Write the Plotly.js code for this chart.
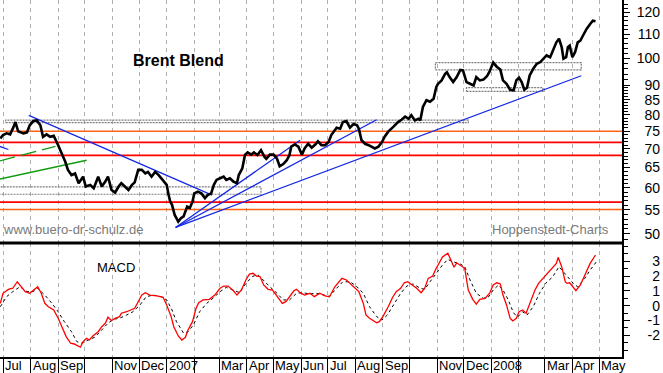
<!DOCTYPE html>
<html>
<head>
<meta charset="utf-8">
<script src="https://cdn.plot.ly/plotly-3.0.1.min.js"></script>
<style>html,body{margin:0;padding:0;background:#fff;}#chart{width:663px;height:373px;}</style>
</head>
<body>
<div id="chart"></div>
<script>
// ---------- DATA ----------
const priceDates = [
'2006-06-28','2006-07-01','2006-07-05','2006-07-09','2006-07-12','2006-07-15','2006-07-18','2006-07-24','2006-07-28','2006-07-31',
'2006-08-04','2006-08-08','2006-08-12','2006-08-15','2006-08-19','2006-08-23','2006-08-27','2006-08-29',
'2006-09-01','2006-09-05','2006-09-09','2006-09-12','2006-09-16','2006-09-20','2006-09-24','2006-09-29',
'2006-10-02','2006-10-07','2006-10-11','2006-10-16','2006-10-20','2006-10-24','2006-10-27','2006-10-31',
'2006-11-04','2006-11-08','2006-11-11','2006-11-15','2006-11-19','2006-11-23','2006-11-26','2006-11-30',
'2006-12-04','2006-12-08','2006-12-11','2006-12-15','2006-12-19','2006-12-23','2006-12-28',
'2007-01-01','2007-01-03','2007-01-05','2007-01-07','2007-01-10','2007-01-14','2007-01-17','2007-01-20','2007-01-24','2007-01-27','2007-01-30',
'2007-02-01','2007-02-05','2007-02-09','2007-02-13','2007-02-16','2007-02-20','2007-02-23','2007-02-26',
'2007-03-02','2007-03-06','2007-03-09','2007-03-13','2007-03-17','2007-03-21','2007-03-23','2007-03-27','2007-03-30',
'2007-04-02','2007-04-06','2007-04-09','2007-04-13','2007-04-17','2007-04-21','2007-04-23','2007-04-27',
'2007-05-01','2007-05-05','2007-05-08','2007-05-12','2007-05-16','2007-05-19','2007-05-21','2007-05-25','2007-05-29',
'2007-06-02','2007-06-05','2007-06-09','2007-06-13','2007-06-17','2007-06-20','2007-06-24','2007-06-28',
'2007-07-02','2007-07-05','2007-07-11','2007-07-15','2007-07-18','2007-07-22','2007-07-26','2007-07-30',
'2007-08-03','2007-08-05','2007-08-08','2007-08-12','2007-08-16','2007-08-19','2007-08-23','2007-08-27','2007-08-31',
'2007-09-03','2007-09-07','2007-09-13','2007-09-18','2007-09-22','2007-09-26','2007-09-30',
'2007-10-03','2007-10-07','2007-10-11','2007-10-13','2007-10-16','2007-10-20','2007-10-24','2007-10-28','2007-10-31',
'2007-11-02','2007-11-06','2007-11-10','2007-11-12','2007-11-15','2007-11-19','2007-11-23','2007-11-27','2007-11-30',
'2007-12-04','2007-12-08','2007-12-12','2007-12-15','2007-12-19','2007-12-23','2007-12-27','2007-12-30',
'2008-01-03','2008-01-07','2008-01-11','2008-01-14','2008-01-18','2008-01-22','2008-01-26','2008-01-29',
'2008-02-01','2008-02-04','2008-02-07','2008-02-10','2008-02-13','2008-02-17','2008-02-21','2008-02-25','2008-02-28',
'2008-03-03','2008-03-07','2008-03-11','2008-03-14','2008-03-17','2008-03-20','2008-03-22','2008-03-25','2008-03-27','2008-03-29',
'2008-04-01','2008-04-04','2008-04-07','2008-04-10','2008-04-13','2008-04-17','2008-04-21','2008-04-24','2008-04-27'
];
const priceValues = [
72.9,73.9,74.4,74.1,75.8,77.8,75.0,74.4,74.7,76.8,
78.1,78.3,76.8,73.4,74.1,73.4,73.7,72.4,
71.0,68.7,66.5,64.4,63.1,63.5,61.1,62.7,
60.3,60.7,59.9,62.7,60.3,61.5,62.7,59.5,
58.9,60.3,61.1,60.3,59.5,60.7,61.3,64.4,
64.4,63.5,63.9,62.7,63.9,63.1,61.9,
60.7,58.5,56.8,56.1,53.9,52.5,53.2,53.6,55.7,55.4,56.8,
58.7,59.1,58.7,57.6,58.3,58.7,60.7,61.9,
62.3,62.7,61.9,62.3,61.5,61.1,63.1,64.8,68.3,
69.0,68.4,69.0,68.3,69.6,67.8,67.3,68.4,
68.4,67.3,65.3,65.9,66.9,68.3,70.6,71.2,70.6,
68.4,70.1,71.4,70.3,71.2,72.1,71.0,71.0,
71.9,73.9,76.1,75.8,77.8,78.1,76.1,77.2,
76.8,75.8,72.4,71.4,71.0,70.6,70.1,70.6,71.9,
73.4,74.9,76.4,77.8,78.5,79.5,78.8,
79.9,78.3,78.8,78.3,82.6,84.8,84.3,85.3,89.3,
90.5,91.7,94.1,94.7,92.9,91.1,92.9,95.6,95.4,
91.1,90.5,89.9,92.9,91.7,92.0,93.2,95.0,
98.4,96.8,95.7,91.7,90.5,88.4,88.2,91.7,
92.7,91.1,88.4,89.1,93.5,96.0,97.9,98.6,99.9,
101.2,100.5,103.9,106.6,108.1,104.6,99.9,100.5,104.6,105.2,
100.5,102.5,106.6,107.3,109.5,112.4,114.6,116.1,115.8
];

const macdDates = ['2006-06-28','2006-07-01','2006-07-07','2006-07-12','2006-07-17','2006-07-21','2006-07-26','2006-07-31',
'2006-08-06','2006-08-09','2006-08-13','2006-08-17','2006-08-21','2006-08-27',
'2006-09-01','2006-09-06','2006-09-10','2006-09-15','2006-09-19','2006-09-23','2006-09-26','2006-09-29',
'2006-10-03','2006-10-06','2006-10-10','2006-10-16','2006-10-20','2006-10-24','2006-10-27','2006-10-31',
'2006-11-04','2006-11-09','2006-11-11','2006-11-17','2006-11-23','2006-11-26','2006-11-30',
'2006-12-04','2006-12-08','2006-12-13','2006-12-21','2006-12-28',
'2007-01-01','2007-01-06','2007-01-09','2007-01-14','2007-01-18','2007-01-22','2007-01-25','2007-01-30',
'2007-02-03','2007-02-06','2007-02-11','2007-02-18','2007-02-24',
'2007-03-02','2007-03-06','2007-03-11','2007-03-17','2007-03-21','2007-03-26','2007-03-31',
'2007-04-04','2007-04-08','2007-04-12','2007-04-16','2007-04-20','2007-04-25','2007-04-30',
'2007-05-06','2007-05-11','2007-05-15','2007-05-19','2007-05-24','2007-05-27','2007-05-31',
'2007-06-05','2007-06-11','2007-06-16','2007-06-22','2007-06-28',
'2007-07-03','2007-07-09','2007-07-14','2007-07-17','2007-07-22','2007-07-26','2007-07-31',
'2007-08-05','2007-08-10','2007-08-13','2007-08-17','2007-08-21','2007-08-25','2007-08-28',
'2007-09-01','2007-09-07','2007-09-12','2007-09-16','2007-09-21','2007-09-25','2007-09-29',
'2007-10-04','2007-10-09','2007-10-14','2007-10-18','2007-10-22','2007-10-27','2007-10-30',
'2007-11-03','2007-11-07','2007-11-13','2007-11-17','2007-11-20','2007-11-23','2007-11-28',
'2007-12-02','2007-12-06','2007-12-11','2007-12-15','2007-12-19','2007-12-25','2007-12-30',
'2008-01-03','2008-01-07','2008-01-11','2008-01-14','2008-01-18','2008-01-22','2008-01-25','2008-01-29',
'2008-02-01','2008-02-05','2008-02-09','2008-02-13','2008-02-19','2008-02-23','2008-02-28',
'2008-03-05','2008-03-11','2008-03-14','2008-03-16','2008-03-20','2008-03-24','2008-03-26','2008-03-29',
'2008-04-01','2008-04-05','2008-04-10','2008-04-15','2008-04-21','2008-04-27'];
const macdValues = [0.16,0.84,1.1,1.18,1.62,1.33,0.95,0.84,
1.1,1.28,0.84,0.16,-0.07,-0.29,
-0.85,-1.53,-2.09,-2.54,-2.59,-2.72,-2.81,-2.43,
-2.2,-2.32,-2.05,-1.76,-1.42,-1.19,-0.78,-1.01,
-0.85,-0.74,-0.51,-0.41,-0.29,-0.18,0.27,
0.72,0.88,0.72,0.66,0.57,
0.05,-0.74,-1.42,-2.05,-2.32,-2.14,-1.64,-1.08,
-0.18,0.2,0.39,0.43,0.72,
1.18,1.33,1.33,1.01,0.72,1.06,1.74,
2.14,2.19,2.0,1.96,1.4,1.11,1.06,
0.61,0.16,0.27,0.61,1.01,1.11,0.88,
0.72,0.84,0.61,0.84,0.66,
0.6,1.28,1.62,1.85,1.74,1.51,1.18,
0.95,0.16,-0.63,-0.85,-1.01,-1.15,-1.08,
-0.74,-0.07,0.57,0.95,1.18,1.55,1.62,
1.4,1.18,0.88,1.18,1.85,2.0,2.41,
2.86,3.3,3.55,2.97,2.6,2.9,2.68,
2.53,1.06,0.43,0.11,0.43,0.5,0.84,
1.4,1.55,1.47,0.72,0.05,-0.85,-1.03,-0.85,
-0.41,-0.29,-0.51,0.16,1.06,1.51,1.85,
2.19,2.64,2.86,3.27,2.64,1.62,1.51,1.55,
1.28,1.01,1.4,2.07,2.86,3.43];

const signalDates = ['2006-06-28','2006-07-05','2006-07-12','2006-07-20','2006-07-28',
'2006-08-04','2006-08-09','2006-08-17','2006-08-25',
'2006-09-01','2006-09-08','2006-09-16','2006-09-22','2006-09-27',
'2006-10-05','2006-10-12','2006-10-20','2006-10-27',
'2006-11-02','2006-11-09','2006-11-17','2006-11-24',
'2006-12-02','2006-12-09','2006-12-17','2006-12-26',
'2007-01-01','2007-01-07','2007-01-12','2007-01-20','2007-01-25','2007-01-31',
'2007-02-07','2007-02-15','2007-02-22',
'2007-03-02','2007-03-09','2007-03-17','2007-03-24','2007-03-31',
'2007-04-08','2007-04-14','2007-04-19','2007-04-27',
'2007-05-05','2007-05-12','2007-05-19','2007-05-27',
'2007-06-03','2007-06-11','2007-06-18','2007-06-26',
'2007-07-03','2007-07-11','2007-07-18','2007-07-26',
'2007-08-02','2007-08-10','2007-08-17','2007-08-25','2007-08-31',
'2007-09-06','2007-09-13','2007-09-21','2007-09-28',
'2007-10-05','2007-10-13','2007-10-18','2007-10-24','2007-10-31',
'2007-11-07','2007-11-13','2007-11-19','2007-11-27',
'2007-12-02','2007-12-08','2007-12-15','2007-12-23','2007-12-29',
'2008-01-03','2008-01-09','2008-01-14','2008-01-20','2008-01-26','2008-01-31',
'2008-02-05','2008-02-10','2008-02-17','2008-02-24',
'2008-03-02','2008-03-10','2008-03-17','2008-03-25',
'2008-04-02','2008-04-07','2008-04-15','2008-04-21','2008-04-28'];
const signalValues = [-0.07,0.61,0.95,1.28,0.95,
0.95,1.18,0.72,0.16,
-0.41,-1.08,-1.76,-2.43,-2.54,
-2.32,-2.14,-1.64,-1.19,
-0.92,-0.85,-0.63,-0.41,
0.05,0.61,0.72,0.61,
0.39,-0.29,-1.08,-1.86,-1.76,-1.3,
-0.41,0.16,0.5,
0.95,1.24,1.06,0.88,1.51,
2.0,2.07,1.74,1.28,
0.84,0.39,0.39,0.84,
0.88,0.79,0.84,0.72,
0.63,1.18,1.62,1.62,
1.33,0.84,-0.07,-0.74,-0.97,
-0.63,0.05,0.84,1.33,
1.47,1.18,1.11,1.62,2.19,
2.75,3.13,2.97,2.82,
2.64,1.74,0.84,0.5,0.61,
1.06,1.4,1.06,0.39,-0.51,-0.74,
-0.41,-0.63,-0.07,0.84,
1.51,1.96,2.64,2.07,
1.51,1.28,1.85,2.41,2.97];

// horizontal support / resistance levels
const redLevels = [71.8, 68.2, 56.7];
const orangeLevels = [75.0, 55.1];
// grey zones
const boxStart = ['2006-07-04','2006-06-26','2007-10-30','2007-12-04'];
const boxEnd   = ['2007-12-06','2007-04-17','2008-04-11','2008-02-28'];
const boxLow   = [77.6, 58.5, 95.6, 87.8];
const boxHigh  = [78.4, 60.2, 98.4, 89.1];
// blue trend lines
const blueStart    = ['2006-07-30','2006-06-27','2007-01-11','2007-01-11','2007-01-11'];
const blueStartVal = [79.9, 70.7, 51.3, 51.3, 51.3];
const blueEnd      = ['2007-02-21','2006-07-07','2007-05-31','2007-08-25','2008-04-11'];
const blueEndVal   = [58.3, 69.8, 72.4, 78.5, 93.4];
// green trend lines (first dashed, second solid)
const greenStart    = ['2006-06-27','2006-06-27'];
const greenStartVal = [66.7, 62.1];
const greenEnd      = ['2006-08-29','2006-10-03'];
const greenEndVal   = [70.7, 66.9];

// axis ticks
const monthTicks = ['2006-07-01','2006-08-01','2006-09-01','2006-10-01','2006-11-01','2006-12-01',
'2007-01-01','2007-02-01','2007-03-01','2007-04-01','2007-05-01','2007-06-01','2007-07-01','2007-08-01',
'2007-09-01','2007-10-01','2007-11-01','2007-12-01','2008-01-01','2008-02-01','2008-03-01','2008-04-01','2008-05-01'];
const monthLabels = ['Jul','Aug','Sep','','Nov','Dec','2007','','Mar','Apr','May','Jun','Jul','Aug',
'Sep','','Nov','Dec','2008','','Mar','Apr','May'];
const priceTicks = [50,55,60,65,70,75,80,85,90,100,110,120];
const priceMinor = [49,51,52,53,54,56,57,58,59,61,62,63,64,66,67,68,69,71,72,73,74,76,77,78,79,81,82,83,84,86,87,88,89,92,94,96,98,102,104,106,108,112,114,116,118,122,124];
const macdTicks = [-2,-1,0,1,2,3];
const macdMinor = [-3,-2.5,-1.5,-0.5,0.5,1.5,2.5,3.5,4];

// ---------- BUILD ----------
const X_RANGE = ['2006-06-27 15:00','2008-05-26 19:00'];
const PLOT_W = 660, AXIS_X = 622, PLOT_H = 357, SPLIT = 243;
const xDomEnd = AXIS_X / PLOT_W;
const splitY = 1 - SPLIT / PLOT_H;
const priceRange = [1.6835, 2.1003];
const macdRange = [-3.47, 4.24];
const FONT = 'Arial, "Liberation Sans", sans-serif';

function segs(s, sv, e, ev, idx) {
  const x = [], y = [];
  idx.forEach(i => { x.push(s[i], e[i], null); y.push(sv[i], ev[i], null); });
  return {x, y};
}
const traces = [];
orangeLevels.forEach(v => traces.push({x: X_RANGE, y: [v, v], yaxis: 'y', mode: 'lines',
  line: {color: '#ff6414', width: 1.5}, hoverinfo: 'skip'}));
redLevels.forEach(v => traces.push({x: X_RANGE, y: [v, v], yaxis: 'y', mode: 'lines',
  line: {color: '#ff0000', width: 1.6}, hoverinfo: 'skip'}));
boxStart.forEach((s, i) => traces.push({
  x: [s, boxEnd[i], boxEnd[i], s, s], y: [boxLow[i], boxLow[i], boxHigh[i], boxHigh[i], boxLow[i]],
  yaxis: 'y', mode: 'lines', line: {color: '#7c7c7c', width: 1.2, dash: '2px,1px'}, hoverinfo: 'skip'}));
const g0 = segs(greenStart, greenStartVal, greenEnd, greenEndVal, [0]);
traces.push({x: g0.x, y: g0.y, yaxis: 'y', mode: 'lines', line: {color: '#129a12', width: 1.3, dash: '16px,6px'}});
const g1 = segs(greenStart, greenStartVal, greenEnd, greenEndVal, [1]);
traces.push({x: g1.x, y: g1.y, yaxis: 'y', mode: 'lines', line: {color: '#129a12', width: 1.3}});
const b = segs(blueStart, blueStartVal, blueEnd, blueEndVal, [0,1,2,3,4]);
traces.push({x: b.x, y: b.y, yaxis: 'y', mode: 'lines', line: {color: '#1428e6', width: 1.3}});
// price (drawn on the label axis y3, which has the identical range)
traces.push({x: priceDates, y: priceValues, yaxis: 'y3', mode: 'lines', line: {color: '#000', width: 2.6}});
// MACD
traces.push({x: signalDates, y: signalValues, yaxis: 'y2', mode: 'lines', line: {color: '#000', width: 1, dash: '3px,3px'}});
traces.push({x: macdDates, y: macdValues, yaxis: 'y4', mode: 'lines', line: {color: '#ff0000', width: 1.3}});

// month labels sit to the right of each month tick, beside the tick bar
const monthAnnotations = monthTicks.map((d, i) => ({
  text: monthLabels[i], xref: 'x', yref: 'paper', x: d, y: -9 / PLOT_H,
  xanchor: 'left', yanchor: 'middle', showarrow: false, xshift: 0,
  font: {family: FONT, size: 13, color: '#000'}
})).filter(a => a.text !== '');

const tickFont = {family: FONT, size: 14, color: '#000'};
const layout = {
  width: 663, height: 373,
  margin: {l: 0, r: 3, t: 0, b: 16, pad: 0},
  paper_bgcolor: '#fff', plot_bgcolor: '#fff',
  showlegend: false,
  font: {family: FONT, color: '#000'},
  xaxis: {type: 'date', range: X_RANGE, domain: [0, xDomEnd], anchor: 'y2',
    showline: true, linecolor: '#000', linewidth: 2,
    ticks: 'outside', ticklen: 16, tickwidth: 1, tickcolor: '#000',
    tickmode: 'array', tickvals: monthTicks, showticklabels: false,
    showgrid: true, gridcolor: '#b0b0b0', griddash: '4px,4px', gridwidth: 1, zeroline: false},
  yaxis: {type: 'log', domain: [splitY, 1], range: priceRange, anchor: 'x', side: 'right',
    showline: true, linecolor: '#000', linewidth: 1.5,
    ticks: 'outside', ticklen: 6, tickcolor: '#000', tickwidth: 1,
    tickmode: 'array', tickvals: priceTicks, showticklabels: false,
    minor: {tickmode: 'array', tickvals: priceMinor, ticks: 'outside', ticklen: 4, tickcolor: '#000', tickwidth: 1, showgrid: false},
    showgrid: false, zeroline: false},
  yaxis3: {type: 'log', overlaying: 'y', side: 'left', anchor: 'free', position: 1, range: priceRange,
    showline: false, ticks: '', tickmode: 'array', tickvals: priceTicks, ticktext: priceTicks.map(String),
    tickfont: tickFont, showgrid: false, zeroline: false},
  yaxis2: {domain: [0, splitY], range: macdRange, anchor: 'x', side: 'right',
    showline: true, linecolor: '#000', linewidth: 1.5,
    ticks: 'outside', ticklen: 6, tickcolor: '#000', tickwidth: 1,
    tickmode: 'array', tickvals: macdTicks, showticklabels: false,
    minor: {tickmode: 'array', tickvals: macdMinor, ticks: 'outside', ticklen: 4, tickcolor: '#000', tickwidth: 1, showgrid: false},
    showgrid: false, zeroline: false},
  yaxis4: {overlaying: 'y2', side: 'left', anchor: 'free', position: 1, range: macdRange,
    showline: false, ticks: '', tickmode: 'array', tickvals: macdTicks, ticktext: macdTicks.map(String),
    tickfont: tickFont, showgrid: false, zeroline: false},
  shapes: [{type: 'line', xref: 'paper', yref: 'paper', x0: 0, x1: xDomEnd, y0: splitY, y1: splitY,
    line: {color: '#000', width: 3}}],
  annotations: [
    {text: '<b>Brent Blend</b>', xref: 'paper', yref: 'paper', x: 131 / PLOT_W, y: 1 - 60 / PLOT_H,
      xanchor: 'left', yanchor: 'middle', showarrow: false, font: {size: 16, color: '#000'}},
    {text: 'www.buero-dr-schulz.de', xref: 'paper', yref: 'paper', x: 1 / PLOT_W, y: 1 - 229 / PLOT_H,
      xanchor: 'left', yanchor: 'middle', showarrow: false, font: {size: 13, color: '#7a7a7a'}},
    {text: 'Hoppenstedt-Charts', xref: 'paper', yref: 'paper', x: 490 / PLOT_W, y: 1 - 229 / PLOT_H,
      xanchor: 'left', yanchor: 'middle', showarrow: false, font: {size: 13, color: '#7a7a7a'}},
    {text: 'MACD', xref: 'paper', yref: 'paper', x: 95 / PLOT_W, y: 1 - 267 / PLOT_H,
      xanchor: 'left', yanchor: 'middle', showarrow: false, font: {size: 13, color: '#000'}}
  ].concat(monthAnnotations)
};
Plotly.newPlot('chart', traces, layout, {staticPlot: true, displayModeBar: false});
</script>
</body>
</html>
